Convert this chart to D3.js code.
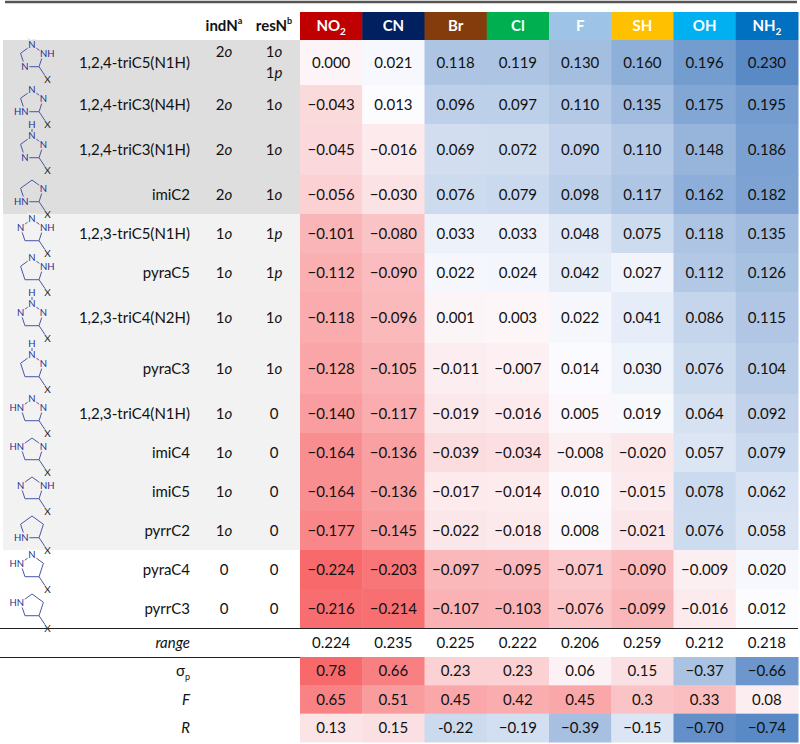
<!DOCTYPE html>
<html>
<head>
<meta charset="utf-8">
<script src="https://cdn.jsdelivr.net/npm/d3@7"></script>
<style>
	body{margin:0;background:#fff;}
	svg text{font-family:Lato,"Open Sans",sans-serif;}
</style>
</head>
<body>
<svg id="chart" width="800" height="744"></svg>
<script>
(function(){
	'use strict';

	// ---- data ----
	var substituents = ["NO2", "CN", "Br", "Cl", "F", "SH", "OH", "NH2"];
	var headerColors = ["#c00000", "#002060", "#843c0c", "#00b050", "#9dc3e6", "#ffc000", "#00b0f0", "#0070c0"];

	var scaffolds = ["1,2,4-triC5(N1H)", "1,2,4-triC3(N4H)", "1,2,4-triC3(N1H)", "imiC2",
		"1,2,3-triC5(N1H)", "pyraC5", "1,2,3-triC4(N2H)", "pyraC3", "1,2,3-triC4(N1H)",
		"imiC4", "imiC5", "pyrrC2", "pyraC4", "pyrrC3"];
	var indN = ["2o", "2o", "2o", "2o", "1o", "1o", "1o", "1o", "1o", "1o", "1o", "1o", "0", "0"];
	var resN = [["1o", "1p"], ["1o"], ["1o"], ["1o"], ["1p"], ["1p"], ["1o"], ["1o"], ["0"], ["0"], ["0"], ["0"], ["0"], ["0"]];
	var band = [0, 0, 0, 0, 1, 1, 1, 1, 1, 1, 1, 1, 2, 2];

	var values = [
		[ 0.000,  0.021,  0.118,  0.119,  0.130,  0.160,  0.196, 0.230],
		[-0.043,  0.013,  0.096,  0.097,  0.110,  0.135,  0.175, 0.195],
		[-0.045, -0.016,  0.069,  0.072,  0.090,  0.110,  0.148, 0.186],
		[-0.056, -0.030,  0.076,  0.079,  0.098,  0.117,  0.162, 0.182],
		[-0.101, -0.080,  0.033,  0.033,  0.048,  0.075,  0.118, 0.135],
		[-0.112, -0.090,  0.022,  0.024,  0.042,  0.027,  0.112, 0.126],
		[-0.118, -0.096,  0.001,  0.003,  0.022,  0.041,  0.086, 0.115],
		[-0.128, -0.105, -0.011, -0.007,  0.014,  0.030,  0.076, 0.104],
		[-0.140, -0.117, -0.019, -0.016,  0.005,  0.019,  0.064, 0.092],
		[-0.164, -0.136, -0.039, -0.034, -0.008, -0.020,  0.057, 0.079],
		[-0.164, -0.136, -0.017, -0.014,  0.010, -0.015,  0.078, 0.062],
		[-0.177, -0.145, -0.022, -0.018,  0.008, -0.021,  0.076, 0.058],
		[-0.224, -0.203, -0.097, -0.095, -0.071, -0.090, -0.009, 0.020],
		[-0.216, -0.214, -0.107, -0.103, -0.076, -0.099, -0.016, 0.012]
	];
	var rangeRow = ["0.224", "0.235", "0.225", "0.222", "0.206", "0.259", "0.212", "0.218"];
	var sigmaP = ["0.78", "0.66", "0.23", "0.23", "0.06", "0.15", "\u22120.37", "\u22120.66"];
	var fieldF = ["0.65", "0.51", "0.45", "0.42", "0.45", "0.3", "0.33", "0.08"];
	var resonR = ["0.13", "0.15", "-0.22", "\u22120.19", "\u22120.39", "\u22120.15", "\u22120.70", "\u22120.74"];

	// ring atoms: [top, upper-right, lower-right (C-X), lower-left, upper-left], hTop = H drawn above top N
	var rings = [
		{atoms: ["N", "NH", "", "N", ""]},
		{atoms: ["N", "N", "", "HN", ""]},
		{atoms: ["N", "N", "", "N", ""], hTop: true},
		{atoms: ["", "N", "", "HN", ""]},
		{atoms: ["N", "NH", "", "", "N"]},
		{atoms: ["N", "NH", "", "", ""]},
		{atoms: ["N", "N", "", "", "N"], hTop: true},
		{atoms: ["N", "N", "", "", ""], hTop: true},
		{atoms: ["N", "N", "", "", "HN"]},
		{atoms: ["", "N", "", "", "HN"]},
		{atoms: ["", "NH", "", "", "N"]},
		{atoms: ["", "", "", "HN", ""]},
		{atoms: ["N", "", "", "", "HN"]},
		{atoms: ["", "", "", "", "HN"]}
	];

	// ---- layout ----
	var svg = d3.select("#chart");
	var headTop = 12, headBottom = 40;
	var bandColors = ["#dedede", "#f2f2f2", "#ffffff"];
	var num = d3.format(".3f");

	var rowHeights = scaffolds.map(function(d, i){
		return 39 + (rings[i].hTop ? 12 : 0) + (resN[i].length > 1 ? 6 : 0);
	});
	var rowTops = [headBottom];
	rowHeights.forEach(function(h, i){ rowTops.push(rowTops[i] + h); });
	var bodyBottom = rowTops[rowTops.length - 1];

	var x = d3.scaleBand().domain(substituents).range([300, 798]);

	var flat = d3.merge(values);
	var bodyColor = d3.scaleLinear()
		.domain([d3.min(flat), d3.median(flat), d3.max(flat)])
		.range(["#F8696B", "#FCFCFF", "#5A8AC6"]);

	var constRows = [
		{label: "\u03c3", sub: "p", vals: sigmaP},
		{label: "F", italic: true, vals: fieldF},
		{label: "R", italic: true, vals: resonR}
	];
	var parse = function(s){ return +s.replace("\u2212", "-"); };
	var constFlat = d3.merge(constRows.map(function(r){ return r.vals.map(parse); }));
	var constColor = d3.scaleLinear()
		.domain([d3.min(constFlat), 0, d3.max(constFlat)])
		.range(["#5A8AC6", "#FCFCFF", "#F8696B"]);

	var rangeTop = bodyBottom, rangeBottom = bodyBottom + 29;
	var yConst = d3.scaleBand().domain(d3.range(constRows.length)).range([rangeBottom, 742]);

	// ---- row bands (left side) ----
	svg.append("g").selectAll("rect")
		.data(scaffolds)
		.enter().append("rect")
			.attr("x", 3)
			.attr("y", function(d, i){ return rowTops[i]; })
			.attr("width", x.range()[0] - 3)
			.attr("height", function(d, i){ return rowHeights[i]; })
			.attr("fill", function(d, i){ return bandColors[band[i]]; });

	// ---- heat cells ----
	var cells = svg.append("g");
	values.forEach(function(row, i){
		cells.selectAll(null)
			.data(row)
			.enter().append("rect")
				.attr("x", function(d, j){ return x(substituents[j]); })
				.attr("y", rowTops[i])
				.attr("width", x.bandwidth() + 0.5)
				.attr("height", rowHeights[i] + 0.5)
				.attr("fill", function(d){ return bodyColor(d); });
		cells.selectAll(null)
			.data(row)
			.enter().append("text")
				.attr("x", function(d, j){ return x(substituents[j]) + x.bandwidth() / 2; })
				.attr("y", rowTops[i] + rowHeights[i] / 2)
				.attr("dy", "0.35em")
				.attr("text-anchor", "middle")
				.attr("font-size", 15)
				.attr("fill", "#111")
				.text(function(d){ return num(d); });
	});

	// ---- header ----
	var head = svg.append("g");
	head.selectAll("rect")
		.data(substituents)
		.enter().append("rect")
			.attr("x", function(d){ return x(d); })
			.attr("y", headTop)
			.attr("width", x.bandwidth() + 0.5)
			.attr("height", headBottom - headTop)
			.attr("fill", function(d, i){ return headerColors[i]; });
	var headText = head.selectAll("text")
		.data(substituents)
		.enter().append("text")
			.attr("x", function(d){ return x(d) + x.bandwidth() / 2; })
			.attr("y", (headTop + headBottom) / 2)
			.attr("dy", "0.35em")
			.attr("text-anchor", "middle")
			.attr("font-size", 15)
			.attr("font-weight", "bold")
			.attr("fill", "#fff");
	headText.each(function(d){
		var t = d3.select(this);
		var m = d.match(/^(\D+)(\d*)$/);
		t.append("tspan").text(m[1]);
		if(m[2]) t.append("tspan").attr("font-size", 10).attr("dy", 4).text(m[2]);
	});

	var colInd = 224, colRes = 274, colName = 190;
	[{x: colInd, t: "indN", s: "a"}, {x: colRes, t: "resN", s: "b"}].forEach(function(h){
		var t = svg.append("text")
			.attr("x", h.x).attr("y", 26).attr("dy", "0.35em")
			.attr("text-anchor", "middle")
			.attr("font-size", 15).attr("font-weight", "bold").attr("fill", "#111");
		t.append("tspan").text(h.t);
		t.append("tspan").attr("font-size", 9).attr("dy", -7).text(h.s);
	});

	// top rule and separators
	svg.append("line").attr("x1", 5).attr("x2", 797).attr("y1", 2).attr("y2", 2)
		.attr("stroke", "#555").attr("stroke-width", 2.5);
	[rangeTop, rangeBottom].forEach(function(y){
		svg.append("line").attr("x1", 0).attr("x2", 798).attr("y1", y + 0.5).attr("y2", y + 0.5)
			.attr("stroke", "#222").attr("stroke-width", 1.2);
	});

	// ---- labels on the left ----
	function orderText(sel, s){
		// "2o" -> 2 + italic o
		var m = s.match(/^(\d)([a-z]?)$/);
		sel.append("tspan").text(m[1]);
		if(m[2]) sel.append("tspan").attr("font-style", "italic").text(m[2]);
	}

	scaffolds.forEach(function(name, i){
		var cy = rowTops[i] + rowHeights[i] / 2;
		svg.append("text")
			.attr("x", colName).attr("y", cy).attr("dy", "0.35em")
			.attr("text-anchor", "end").attr("font-size", 15).attr("fill", "#111")
			.text(name);

		var twoLine = resN[i].length > 1;
		var firstY = twoLine ? rowTops[i] + 12 : cy;
		orderText(svg.append("text")
			.attr("x", colInd).attr("y", firstY).attr("dy", "0.35em")
			.attr("text-anchor", "middle").attr("font-size", 15).attr("fill", "#111"), indN[i]);
		resN[i].forEach(function(r, k){
			orderText(svg.append("text")
				.attr("x", colRes).attr("y", firstY + k * 21).attr("dy", "0.35em")
				.attr("text-anchor", "middle").attr("font-size", 15).attr("fill", "#111"), r);
		});

		drawRing(rings[i], 32, rowTops[i] + (rings[i].hTop ? 24 : 17), bandColors[band[i]]);
	});

	// ---- structure glyphs ----
	function drawRing(ring, cx, cy, bg){
		var r = 12;
		var g = svg.append("g");
		var pts = d3.range(5).map(function(k){
			var a = -Math.PI / 2 + k * 2 * Math.PI / 5;
			return [cx + r * Math.cos(a), cy + r * Math.sin(a)];
		});
		g.append("path")
			.attr("d", d3.line()(pts.concat([pts[0]])))
			.attr("fill", "none").attr("stroke", "#4a56a6").attr("stroke-width", 1);
		var c = pts[2];
		g.append("line")
			.attr("x1", c[0]).attr("y1", c[1]).attr("x2", c[0] + 6).attr("y2", c[1] + 9)
			.attr("stroke", "#4a56a6").attr("stroke-width", 1);
		g.append("text")
			.attr("x", c[0] + 8.5).attr("y", c[1] + 13).attr("dy", "0.35em")
			.attr("text-anchor", "middle").attr("font-size", 10).attr("fill", "#222")
			.text("X");
		ring.atoms.forEach(function(a, k){
			if(!a) return;
			var p = pts[k];
			var anchor = "middle", dx = 0;
			if(a === "NH"){ anchor = "start"; dx = -3.5; }
			if(a === "HN"){ anchor = "end"; dx = 3.5; }
			g.append("text")
				.attr("x", p[0] + dx).attr("y", p[1]).attr("dy", "0.35em")
				.attr("text-anchor", anchor).attr("font-size", 9.5)
				.attr("fill", "#1f2d8f")
				.attr("stroke", bg).attr("stroke-width", 3).attr("paint-order", "stroke")
				.text(a);
		});
		if(ring.hTop){
			g.append("line")
				.attr("x1", pts[0][0]).attr("x2", pts[0][0])
				.attr("y1", pts[0][1] - 4).attr("y2", pts[0][1] - 7)
				.attr("stroke", "#4a56a6").attr("stroke-width", 1);
			g.append("text")
				.attr("x", pts[0][0]).attr("y", pts[0][1] - 11).attr("dy", "0.35em")
				.attr("text-anchor", "middle").attr("font-size", 9.5).attr("fill", "#1f2d8f")
				.text("H");
		}
	}

	// ---- range row ----
	svg.append("text")
		.attr("x", colName).attr("y", (rangeTop + rangeBottom) / 2).attr("dy", "0.35em")
		.attr("text-anchor", "end").attr("font-size", 15).attr("font-style", "italic").attr("fill", "#111")
		.text("range");
	svg.append("g").selectAll("text")
		.data(rangeRow)
		.enter().append("text")
			.attr("x", function(d, j){ return x(substituents[j]) + x.bandwidth() / 2; })
			.attr("y", (rangeTop + rangeBottom) / 2)
			.attr("dy", "0.35em")
			.attr("text-anchor", "middle").attr("font-size", 15).attr("fill", "#111")
			.text(function(d){ return d; });

	// ---- substituent constants ----
	constRows.forEach(function(row, i){
		var y0 = yConst(i), h = yConst.bandwidth();
		var g = svg.append("g");
		g.selectAll("rect")
			.data(row.vals)
			.enter().append("rect")
				.attr("x", function(d, j){ return x(substituents[j]); })
				.attr("y", y0)
				.attr("width", x.bandwidth() + 0.5)
				.attr("height", h + 0.5)
				.attr("fill", function(d){ return constColor(parse(d)); });
		g.selectAll("text")
			.data(row.vals)
			.enter().append("text")
				.attr("x", function(d, j){ return x(substituents[j]) + x.bandwidth() / 2; })
				.attr("y", y0 + h / 2)
				.attr("dy", "0.35em")
				.attr("text-anchor", "middle").attr("font-size", 15).attr("fill", "#111")
				.text(function(d){ return d; });
		var lab = svg.append("text")
			.attr("x", colName).attr("y", y0 + h / 2).attr("dy", "0.35em")
			.attr("text-anchor", "end").attr("font-size", 15).attr("fill", "#111")
			.attr("font-style", row.italic ? "italic" : null);
		lab.append("tspan").text(row.label);
		if(row.sub) lab.append("tspan").attr("font-size", 9).attr("dy", 4).text(row.sub);
	});
}());
</script>
</body>
</html>
